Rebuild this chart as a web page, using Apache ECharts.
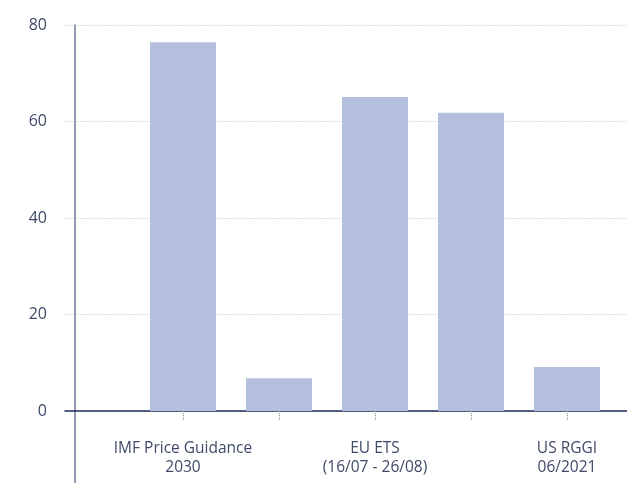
<!DOCTYPE html>
<html><head><meta charset="utf-8">
<script src="https://cdn.jsdelivr.net/npm/echarts@6/dist/echarts.min.js"></script>
<style>html,body{margin:0;padding:0;background:#fff}#c{width:627px;height:483px}</style>
</head><body><div id="c"></div>
<script>
const categories = ['IMF Price Guidance\n2030', '', 'EU ETS\n(16/07 - 26/08)', '', 'US RGGI\n06/2021'];
const values = [76.4, 6.8, 65.1, 61.8, 9.1];
const yMin = 0, yMax = 80, yStep = 20;

const font = '"Open Sans", sans-serif';
const textColor = '#3e4a68';
const chart = echarts.init(document.getElementById('c'), null, {renderer: 'canvas'});
chart.setOption({
  animation: false,
  grid: [
    {left: 65, right: 0, top: 25, bottom: 72},
    {left: 135, right: 12, top: 25, bottom: 72},
    {left: 75, width: 1, top: 25, bottom: 0}
  ],
  xAxis: [
    {gridIndex: 0, type: 'value', min: 0, max: 1, axisLine: {show: true, lineStyle: {color: '#1d2e5c', width: 1.5}},
     axisTick: {show: false}, axisLabel: {show: false}, splitLine: {show: false}},
    {gridIndex: 1, type: 'category', data: categories,
     axisLine: {show: false},
     axisTick: {show: true, alignWithLabel: true, length: 9, lineStyle: {color: '#8a8a8a', type: 'dotted', width: 1}},
     axisLabel: {interval: 0, margin: 28, color: textColor, fontFamily: font, fontSize: 15.5, lineHeight: 19}},
    {gridIndex: 2, type: 'value', show: false}
  ],
  yAxis: [
    {gridIndex: 0, type: 'value', min: yMin, max: yMax, interval: yStep,
     axisLine: {show: false}, axisTick: {show: false},
     axisLabel: {margin: 18, color: textColor, fontFamily: font, fontSize: 16},
     splitLine: {show: true, lineStyle: {color: '#dcdcdc', type: [2, 1], width: 1}}},
    {gridIndex: 1, type: 'value', min: yMin, max: yMax, interval: yStep, show: false},
    {gridIndex: 2, type: 'value', min: 0, max: 1, axisLine: {show: true, lineStyle: {color: '#6c7896', width: 1.5}},
     axisTick: {show: false}, axisLabel: {show: false}, splitLine: {show: false}}
  ],
  series: [{
    type: 'bar', xAxisIndex: 1, yAxisIndex: 1, data: values, barWidth: 66,
    itemStyle: {color: '#b4bfde'}
  }]
});
</script></body></html>
